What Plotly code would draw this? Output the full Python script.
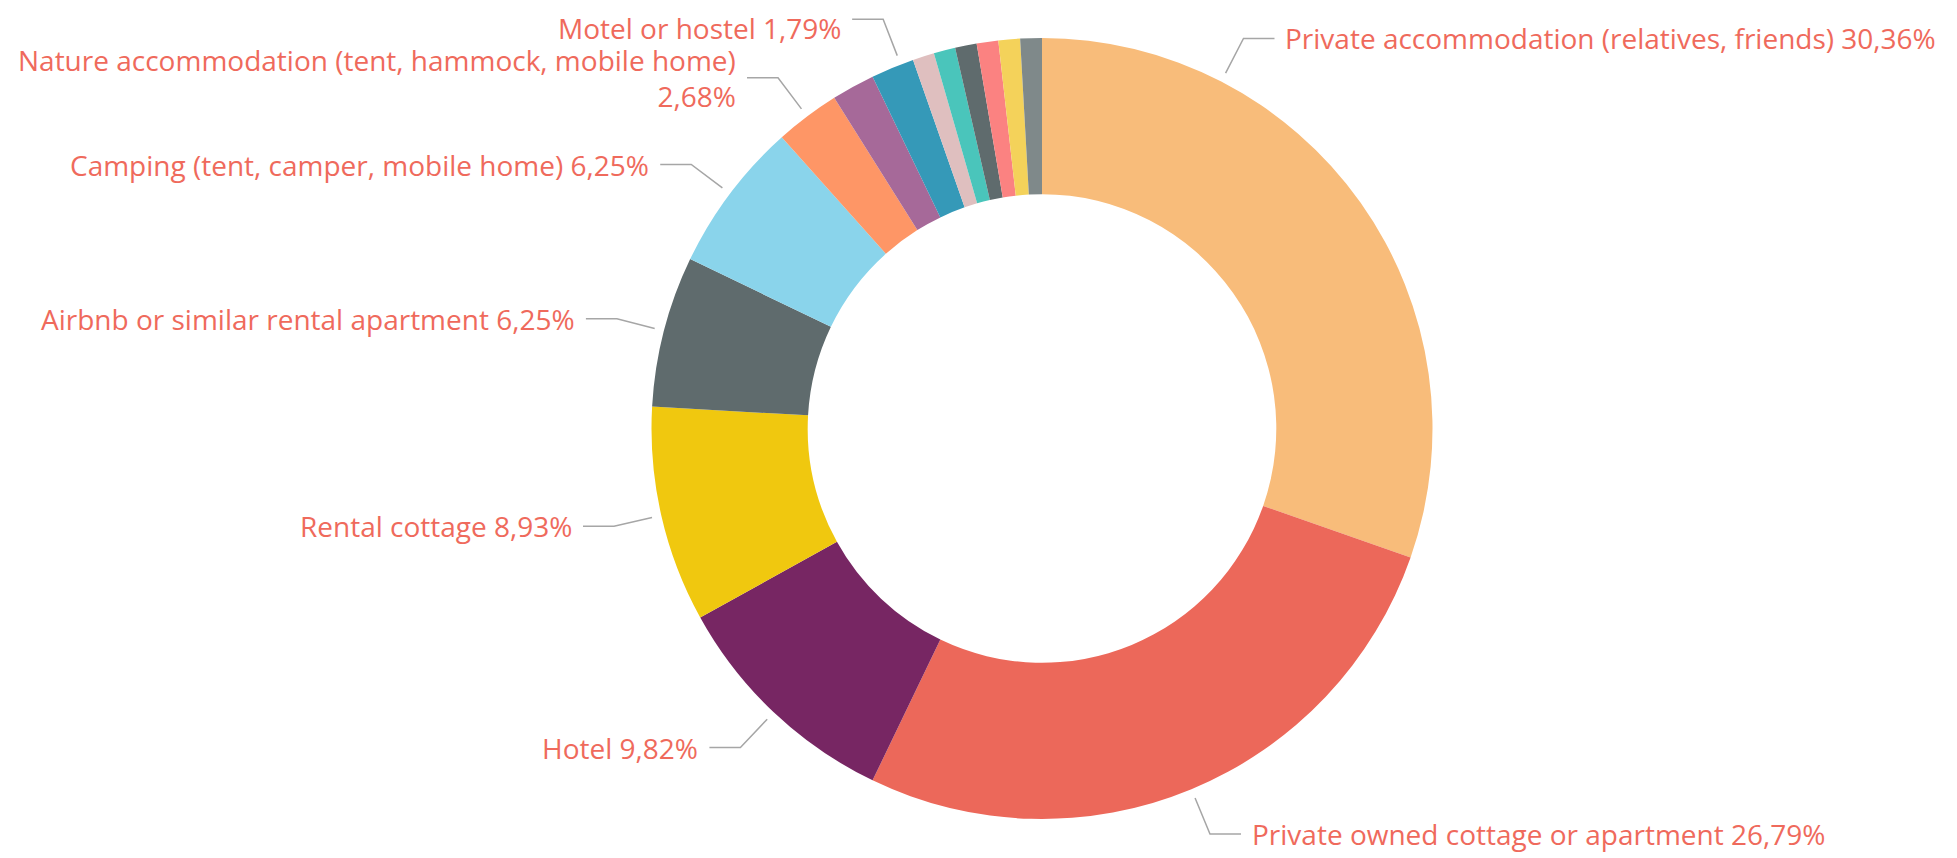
import math
import plotly.graph_objects as go

# ---- data ----
categories = [
    "Private accommodation (relatives, friends)",
    "Private owned cottage or apartment",
    "Hotel",
    "Rental cottage",
    "Airbnb or similar rental apartment",
    "Camping (tent, camper, mobile home)",
    "Nature accommodation (tent, hammock, mobile home)",
    "Other (unlabelled) A",
    "Motel or hostel",
    "Other (unlabelled) B",
    "Other (unlabelled) C",
    "Other (unlabelled) D",
    "Other (unlabelled) E",
    "Other (unlabelled) F",
    "Other (unlabelled) G",
]
counts = [34, 30, 11, 10, 7, 7, 3, 2, 2, 1, 1, 1, 1, 1, 1]
colors = ["#F8BC7A", "#EC685A", "#772663", "#F0C80F", "#5F6B6D", "#8AD4EB",
          "#FE9666", "#A66999", "#3599B8", "#DFBFBF", "#4AC5BB", "#5F6B6D",
          "#FB8281", "#F4D25A", "#7F898A"]
show_label = [True, True, True, True, True, True, True, False, True,
              False, False, False, False, False, False]
# where along each slice the leader line attaches (fraction of slice)
anchor_frac = [0.25, 0.5, 0.5, 0.5, 0.5, 0.5, 0.5, 0.5, 0.7,
               0.5, 0.5, 0.5, 0.5, 0.5, 0.5]
label_wrap = {6: "Nature accommodation (tent, hammock, mobile home)<br>"}

# ---- layout constants ----
W, H = 1957, 858
OFF = 8  # page body margin offset
CX, CY, R = 1042 - OFF, 428.5 - OFF, 390.5
HOLE = 0.6
R_START, R_ELBOW, HSEG, GAP = 400, 439, 31, 9
TEXT_COLOR = "#EF6A5C"
FONT = "Open Sans"
FONT_SIZE = 28
MIN_TEXT_Y = 20

total = sum(counts)

fig = go.Figure()
fig.add_trace(go.Pie(
    labels=categories, values=counts, sort=False, direction="clockwise",
    rotation=0, hole=HOLE, textinfo="none",
    marker=dict(colors=colors, line=dict(width=0)),
    domain=dict(x=[(CX - R) / W, (CX + R) / W],
                y=[1 - (CY + R) / H, 1 - (CY - R) / H]),
    showlegend=False,
))

lx, ly = [], []
annotations = []
cum = 0
for i, (cat, v) in enumerate(zip(categories, counts)):
    start = cum
    cum += v
    if not show_label[i]:
        continue
    frac = (start + anchor_frac[i] * v) / total
    ang = 2 * math.pi * frac
    s, c = math.sin(ang), math.cos(ang)
    x0, y0 = CX + R_START * s, CY - R_START * c
    x1, y1 = CX + R_ELBOW * s, CY - R_ELBOW * c
    side = 1 if s > 0 else -1
    x2 = x1 + side * HSEG
    lx += [x0, x1, x2, None]
    ly += [y0, y1, y1, None]
    pct = f"{v / total * 100:.2f}".replace(".", ",") + "%"
    txt = label_wrap.get(i, cat + " ") + pct
    annotations.append(dict(
        x=x2 + side * GAP, y=max(y1, MIN_TEXT_Y), xref="x", yref="y", text=txt,
        showarrow=False, xanchor="left" if side > 0 else "right",
        yanchor="middle", align="left" if side > 0 else "right",
        font=dict(family=FONT, size=FONT_SIZE, color=TEXT_COLOR),
    ))

fig.add_trace(go.Scatter(x=lx, y=ly, mode="lines",
                         line=dict(color="#A6A6A6", width=1.5),
                         hoverinfo="skip", showlegend=False))

fig.update_layout(
    width=W, height=H, margin=dict(l=0, r=0, t=0, b=0),
    paper_bgcolor="white", plot_bgcolor="rgba(0,0,0,0)",
    xaxis=dict(range=[0, W], visible=False, fixedrange=True),
    yaxis=dict(range=[H, 0], visible=False, fixedrange=True),
    annotations=annotations,
)
fig.write_html("out.html")
